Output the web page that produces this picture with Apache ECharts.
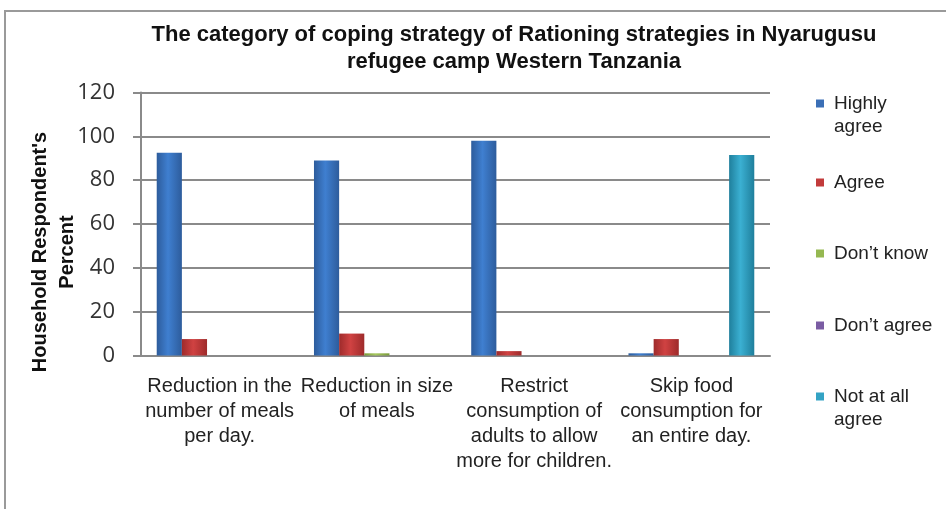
<!DOCTYPE html>
<html>
<head>
<meta charset="utf-8">
<script src="https://cdn.jsdelivr.net/npm/echarts@6/dist/echarts.min.js"></script>
<style>
html,body{margin:0;padding:0;background:#fff;}
#c{width:946px;height:509px;}
</style>
</head>
<body>
<div id="c"></div>
<script>
var categories = [
  "Reduction in the\nnumber of meals\nper day.",
  "Reduction in size\nof meals",
  "Restrict\nconsumption of\nadults to allow\nmore for children.",
  "Skip food\nconsumption for\nan entire day."
];
var seriesNames = ["Highly agree", "Agree", "Don\u2019t know", "Don\u2019t agree", "Not at all agree"];
var legendLabels = ["Highly\nagree", "Agree", "Don\u2019t know", "Don\u2019t agree", "Not at all\nagree"];
var highlyAgree = [92.5, 89, 98, 1];
var agree = [7.5, 10, 2, 7.5];
var dontKnow = [0, 1, 0, 0];
var dontAgree = [0, 0, 0, 0];
var notAtAllAgree = [0, 0, 0, 91.5];
var yTicks = [0, 20, 40, 60, 80, 100, 120];
var yAxisTitle = "Household Respondent's\nPercent";

var seriesData = [highlyAgree, agree, dontKnow, dontAgree, notAtAllAgree];
var baseColors = [
  ["#2d5c9c", "#3f7fd0", "#2d5c9c"],
  ["#9e2b2b", "#d04242", "#9e2b2b"],
  ["#7a9a3a", "#a6c85e", "#7a9a3a"],
  ["#5e4880", "#8a6bb0", "#5e4880"],
  ["#1f7f9c", "#3bb0d2", "#1f7f9c"]
];
var legendColors = ["#3b6fb6", "#c23b3b", "#95b851", "#7a5ca3", "#34a3c4"];
var FONT = '"Liberation Sans", Arial, sans-serif';

function grad(c) {
  return new echarts.graphic.LinearGradient(0, 0, 1, 0, [
    {offset: 0, color: c[0]}, {offset: 0.45, color: c[1]}, {offset: 1, color: c[2]}
  ]);
}

var series = seriesNames.map(function (n, i) {
  return {
    name: n,
    type: 'bar',
    data: seriesData[i],
    barGap: '0%',
    barCategoryGap: '20%',
    itemStyle: {color: grad(baseColors[i])},
    emphasis: {disabled: true}
  };
});

var legendCenters = [105, 183, 254, 326, 398];
var legends = seriesNames.map(function (n, i) {
  var two = legendLabels[i].indexOf('\n') >= 0;
  return {
    data: [{name: n, itemStyle: {color: legendColors[i]}}],
    left: 811,
    top: two ? legendCenters[i] - 41 : legendCenters[i] - 17,
    itemWidth: 8,
    itemHeight: 8,
    icon: 'rect',
    selectedMode: false,
    formatter: function () { return two ? '\n' + legendLabels[i] : legendLabels[i]; },
    textStyle: {
      fontFamily: FONT,
      fontSize: 19,
      color: '#222',
      lineHeight: 23,
      padding: [0, 0, 0, 5]
    }
  };
});

var chart = echarts.init(document.getElementById('c'));
chart.setOption({
  animation: false,
  backgroundColor: '#fff',
  title: {
    text: "The category of coping strategy of Rationing strategies in Nyarugusu\nrefugee camp Western Tanzania",
    left: 509,
    textAlign: 'center',
    top: 16,
    textStyle: {fontFamily: FONT, fontWeight: 'bold', fontSize: 22, lineHeight: 27, color: '#111'}
  },
  graphic: [{
    type: 'rect',
    shape: {x: 5, y: 11, width: 980, height: 540},
    style: {fill: 'none', stroke: '#9a9a9a', lineWidth: 2},
    silent: true, z: -1
  }, {
    type: 'text',
    x: 54, y: 252,
    rotation: Math.PI / 2,
    silent: true,
    style: {
      text: yAxisTitle,
      align: 'center', verticalAlign: 'middle',
      fontFamily: FONT, fontWeight: 'bold', fontSize: 20, lineHeight: 27, fill: '#111'
    }
  }],
  legend: legends,
  grid: {left: 141, right: 176, top: 92.5, bottom: 153.5, containLabel: false},
  xAxis: {
    type: 'category',
    data: categories,
    axisLine: {lineStyle: {color: '#8a8a8a', width: 2}},
    axisTick: {show: false},
    axisLabel: {fontFamily: FONT, fontSize: 20, lineHeight: 25, color: '#222', margin: 18, interval: 0}
  },
  yAxis: {
    type: 'value',
    min: 0, max: 120, interval: 20,
    axisLine: {show: true, lineStyle: {color: '#8a8a8a', width: 2}},
    axisTick: {show: true, length: 8, lineStyle: {color: '#8a8a8a', width: 2}},
    splitLine: {lineStyle: {color: '#8a8a8a', width: 2}},
    axisLabel: {
      fontFamily: '"Open Sans", "Liberation Sans", sans-serif', fontSize: 22, color: '#333', margin: 26,
      formatter: function (v) { return yTicks.indexOf(v) >= 0 ? String(v) : ''; }
    }
  },
  series: series
});
</script>
</body>
</html>
